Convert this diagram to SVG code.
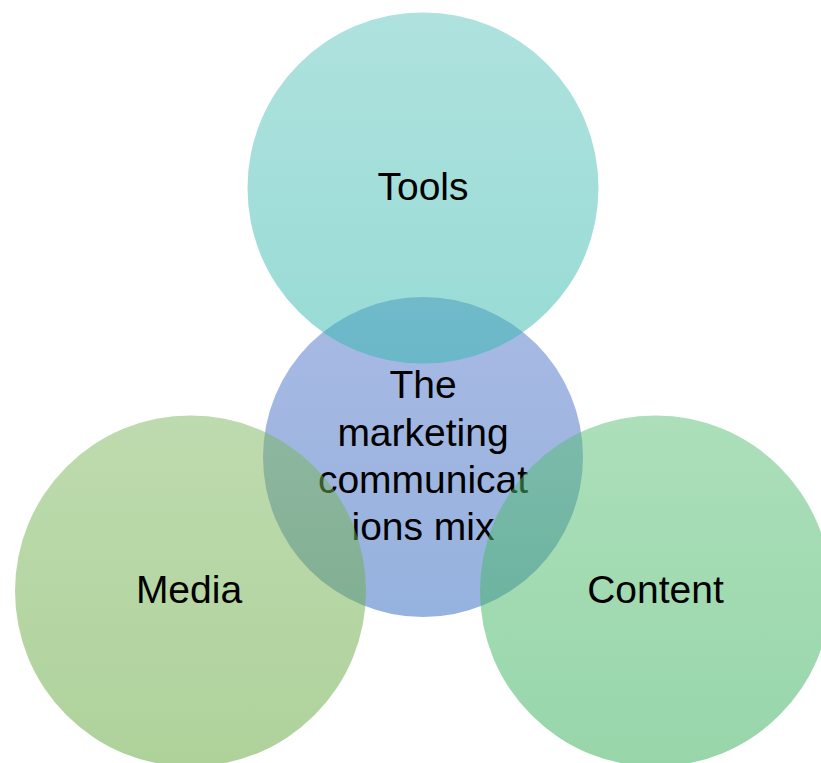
<svg xmlns="http://www.w3.org/2000/svg" width="821" height="763" viewBox="0 0 821 763">
<defs>
<linearGradient id="gT" x1="0" y1="0" x2="0" y2="1"><stop offset="0" stop-color="#5fc5bd"/><stop offset="1" stop-color="#31b7ad"/></linearGradient>
<linearGradient id="gC" x1="0" y1="0" x2="0" y2="1"><stop offset="0" stop-color="#5175c9"/><stop offset="1" stop-color="#2d65bd"/></linearGradient>
<linearGradient id="gM" x1="0" y1="0" x2="0" y2="1"><stop offset="0" stop-color="#7db75f"/><stop offset="1" stop-color="#5fa537"/></linearGradient>
<linearGradient id="gN" x1="0" y1="0" x2="0" y2="1"><stop offset="0" stop-color="#59bf75"/><stop offset="1" stop-color="#31ad55"/></linearGradient>
</defs>
<style>
circle{fill-opacity:0.5;stroke:none}
text{font-family:"Liberation Sans",Arial,sans-serif;font-size:39px;fill:#000;text-anchor:middle}
</style>
<rect width="821" height="763" fill="#fff"/>
<g id="center">
<circle cx="423" cy="457" r="160" fill="url(#gC)"/>
<text x="423" y="398">The</text>
<text x="423" y="446">marketing</text>
<text x="423" y="493">communicat</text>
<text x="423" y="540">ions mix</text>
</g>
<g id="tools">
<circle cx="423" cy="188" r="175.5" fill="url(#gT)"/>
<text x="423" y="200">Tools</text>
</g>
<g id="media">
<circle cx="190.5" cy="591" r="175.5" fill="url(#gM)"/>
<text x="189" y="603">Media</text>
</g>
<g id="content">
<circle cx="655.5" cy="591" r="175.5" fill="url(#gN)"/>
<text x="655.5" y="603">Content</text>
</g>
<g id="connectors"/>
</svg>
